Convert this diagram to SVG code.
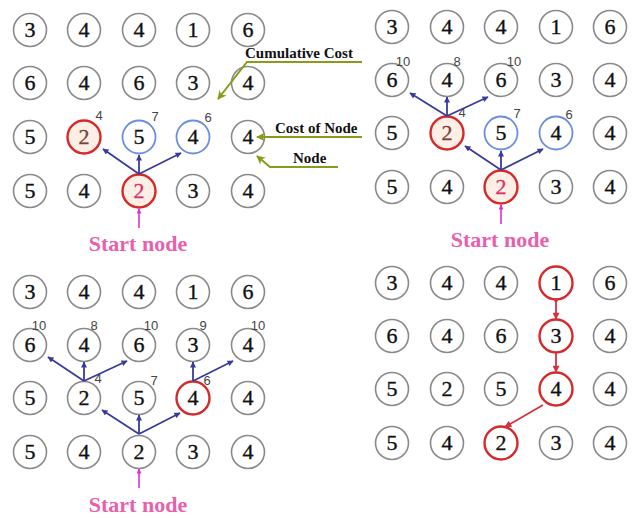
<svg xmlns="http://www.w3.org/2000/svg" width="633" height="518" viewBox="0 0 633 518">
<defs>
<style>
.n circle{fill:#fff;stroke:#8a8a8a;stroke-width:1.6}
.n text{font-family:"Liberation Serif","Times New Roman",serif;font-size:22px;text-anchor:middle;fill:#111;stroke:#111;stroke-width:0.35}
.r circle{stroke:#d42a2a;stroke-width:2.4}
.rf circle{fill:#fdeee6}
.b circle{stroke:#6a8ee0;stroke-width:1.8}
.st text{fill:#d8306a;stroke:#d8306a}
.br text{fill:#7a4434;stroke:#7a4434}
.c{font-family:"Liberation Sans",Arial,sans-serif;font-size:13px;fill:#444;text-anchor:middle}
.e{stroke:#3a3a9c;stroke-width:1.8;fill:none;marker-end:url(#ab)}
.p{stroke:#d83040;stroke-width:1.8;fill:none;marker-end:url(#ar)}
.s{stroke:#e030d0;stroke-width:1.6;marker-end:url(#am)}
.o{stroke:#8c9a1a;stroke-width:2;fill:none}
.lab{font-family:"Liberation Serif",serif;font-weight:bold;font-size:15px;fill:#111}
.start{font-family:"Liberation Serif",serif;font-weight:bold;font-size:22px;fill:#e860ac;text-anchor:middle}
</style>
<marker id="ab" viewBox="0 0 10 10" refX="9" refY="5" markerWidth="7" markerHeight="6" markerUnits="userSpaceOnUse" orient="auto"><path d="M0,0L10,5L0,10z" fill="#3a3a9c"/></marker>
<marker id="ar" viewBox="0 0 10 10" refX="9" refY="5" markerWidth="8" markerHeight="7" markerUnits="userSpaceOnUse" orient="auto"><path d="M0,0L10,5L0,10z" fill="#d83040"/></marker>
<marker id="am" viewBox="0 0 10 10" refX="9" refY="5" markerWidth="6" markerHeight="5" markerUnits="userSpaceOnUse" orient="auto"><path d="M0,0L10,5L0,10z" fill="#e030d0"/></marker>
<marker id="ao" viewBox="0 0 10 10" refX="9" refY="5" markerWidth="10" markerHeight="9" markerUnits="userSpaceOnUse" orient="auto"><path d="M0,0L10,5L0,10L3,5z" fill="#8c9a1a"/></marker>
</defs>
<rect width="633" height="518" fill="#fff"/>

<!-- Panel 1 (top-left) -->
<g id="p1">
<g id="p1-n11" class="n"><circle cx="30" cy="30" r="16.5"/><text x="30" y="37">3</text></g>
<g id="p1-n12" class="n"><circle cx="84" cy="30" r="16.5"/><text x="84" y="37">4</text></g>
<g id="p1-n13" class="n"><circle cx="139" cy="30" r="16.5"/><text x="139" y="37">4</text></g>
<g id="p1-n14" class="n"><circle cx="193" cy="30" r="16.5"/><text x="193" y="37">1</text></g>
<g id="p1-n15" class="n"><circle cx="248" cy="30" r="16.5"/><text x="248" y="37">6</text></g>
<g id="p1-n21" class="n"><circle cx="30" cy="83" r="16.5"/><text x="30" y="90">6</text></g>
<g id="p1-n22" class="n"><circle cx="84" cy="83" r="16.5"/><text x="84" y="90">4</text></g>
<g id="p1-n23" class="n"><circle cx="139" cy="83" r="16.5"/><text x="139" y="90">6</text></g>
<g id="p1-n24" class="n"><circle cx="193" cy="83" r="16.5"/><text x="193" y="90">3</text></g>
<g id="p1-n25" class="n"><circle cx="248" cy="83" r="16.5"/><text x="248" y="90">4</text></g>
<g id="p1-n31" class="n"><circle cx="30" cy="137" r="16.5"/><text x="30" y="144">5</text></g>
<g id="p1-n32" class="n r rf br"><circle cx="84" cy="137" r="16.5"/><text x="84" y="144">2</text></g>
<g id="p1-n33" class="n b"><circle cx="139" cy="137" r="16.5"/><text x="139" y="144">5</text></g>
<g id="p1-n34" class="n b"><circle cx="193" cy="137" r="16.5"/><text x="193" y="144">4</text></g>
<g id="p1-n35" class="n"><circle cx="248" cy="137" r="16.5"/><text x="248" y="144">4</text></g>
<g id="p1-n41" class="n"><circle cx="30" cy="191" r="16.5"/><text x="30" y="198">5</text></g>
<g id="p1-n42" class="n"><circle cx="84" cy="191" r="16.5"/><text x="84" y="198">4</text></g>
<g id="p1-n43" class="n r rf st"><circle cx="139" cy="191" r="16.5"/><text x="139" y="198">2</text></g>
<g id="p1-n44" class="n"><circle cx="193" cy="191" r="16.5"/><text x="193" y="198">3</text></g>
<g id="p1-n45" class="n"><circle cx="248" cy="191" r="16.5"/><text x="248" y="198">4</text></g>
<g id="p1-costs"><text class="c" x="99" y="120">4</text><text class="c" x="155" y="121">7</text><text class="c" x="208" y="122">6</text></g>
<text class="start" x="138" y="251">Start node</text>
</g>

<!-- Panel 2 (top-right) -->
<g id="p2">
<g id="p2-n11" class="n"><circle cx="392" cy="27" r="16.5"/><text x="392" y="34">3</text></g>
<g id="p2-n12" class="n"><circle cx="447" cy="27" r="16.5"/><text x="447" y="34">4</text></g>
<g id="p2-n13" class="n"><circle cx="501" cy="27" r="16.5"/><text x="501" y="34">4</text></g>
<g id="p2-n14" class="n"><circle cx="556" cy="27" r="16.5"/><text x="556" y="34">1</text></g>
<g id="p2-n15" class="n"><circle cx="610" cy="27" r="16.5"/><text x="610" y="34">6</text></g>
<g id="p2-n21" class="n"><circle cx="392" cy="80" r="16.5"/><text x="392" y="87">6</text></g>
<g id="p2-n22" class="n"><circle cx="447" cy="80" r="16.5"/><text x="447" y="87">4</text></g>
<g id="p2-n23" class="n"><circle cx="501" cy="80" r="16.5"/><text x="501" y="87">6</text></g>
<g id="p2-n24" class="n"><circle cx="556" cy="80" r="16.5"/><text x="556" y="87">3</text></g>
<g id="p2-n25" class="n"><circle cx="610" cy="80" r="16.5"/><text x="610" y="87">4</text></g>
<g id="p2-n31" class="n"><circle cx="392" cy="133" r="16.5"/><text x="392" y="140">5</text></g>
<g id="p2-n32" class="n r rf br"><circle cx="447" cy="133" r="16.5"/><text x="447" y="140">2</text></g>
<g id="p2-n33" class="n b"><circle cx="501" cy="133" r="16.5"/><text x="501" y="140">5</text></g>
<g id="p2-n34" class="n b"><circle cx="556" cy="133" r="16.5"/><text x="556" y="140">4</text></g>
<g id="p2-n35" class="n"><circle cx="610" cy="133" r="16.5"/><text x="610" y="140">4</text></g>
<g id="p2-n41" class="n"><circle cx="392" cy="187" r="16.5"/><text x="392" y="194">5</text></g>
<g id="p2-n42" class="n"><circle cx="447" cy="187" r="16.5"/><text x="447" y="194">4</text></g>
<g id="p2-n43" class="n r rf st"><circle cx="501" cy="187" r="16.5"/><text x="501" y="194">2</text></g>
<g id="p2-n44" class="n"><circle cx="556" cy="187" r="16.5"/><text x="556" y="194">3</text></g>
<g id="p2-n45" class="n"><circle cx="610" cy="187" r="16.5"/><text x="610" y="194">4</text></g>
<g id="p2-costs"><text class="c" x="403" y="66">10</text><text class="c" x="457" y="66">8</text><text class="c" x="514" y="66">10</text><text class="c" x="462" y="117">4</text><text class="c" x="517" y="118">7</text><text class="c" x="569" y="119">6</text></g>
<text class="start" x="500" y="247">Start node</text>
</g>

<!-- Panel 3 (bottom-left) -->
<g id="p3">
<g id="p3-n11" class="n"><circle cx="30" cy="292" r="16.5"/><text x="30" y="299">3</text></g>
<g id="p3-n12" class="n"><circle cx="84" cy="292" r="16.5"/><text x="84" y="299">4</text></g>
<g id="p3-n13" class="n"><circle cx="139" cy="292" r="16.5"/><text x="139" y="299">4</text></g>
<g id="p3-n14" class="n"><circle cx="193" cy="292" r="16.5"/><text x="193" y="299">1</text></g>
<g id="p3-n15" class="n"><circle cx="248" cy="292" r="16.5"/><text x="248" y="299">6</text></g>
<g id="p3-n21" class="n"><circle cx="30" cy="345" r="16.5"/><text x="30" y="352">6</text></g>
<g id="p3-n22" class="n"><circle cx="84" cy="345" r="16.5"/><text x="84" y="352">4</text></g>
<g id="p3-n23" class="n"><circle cx="139" cy="345" r="16.5"/><text x="139" y="352">6</text></g>
<g id="p3-n24" class="n"><circle cx="193" cy="345" r="16.5"/><text x="193" y="352">3</text></g>
<g id="p3-n25" class="n"><circle cx="248" cy="345" r="16.5"/><text x="248" y="352">4</text></g>
<g id="p3-n31" class="n"><circle cx="30" cy="398" r="16.5"/><text x="30" y="405">5</text></g>
<g id="p3-n32" class="n"><circle cx="84" cy="398" r="16.5"/><text x="84" y="405">2</text></g>
<g id="p3-n33" class="n"><circle cx="139" cy="398" r="16.5"/><text x="139" y="405">5</text></g>
<g id="p3-n34" class="n r"><circle cx="193" cy="398" r="16.5"/><text x="193" y="405">4</text></g>
<g id="p3-n35" class="n"><circle cx="248" cy="398" r="16.5"/><text x="248" y="405">4</text></g>
<g id="p3-n41" class="n"><circle cx="30" cy="452" r="16.5"/><text x="30" y="459">5</text></g>
<g id="p3-n42" class="n"><circle cx="84" cy="452" r="16.5"/><text x="84" y="459">4</text></g>
<g id="p3-n43" class="n"><circle cx="139" cy="452" r="16.5"/><text x="139" y="459">2</text></g>
<g id="p3-n44" class="n"><circle cx="193" cy="452" r="16.5"/><text x="193" y="459">3</text></g>
<g id="p3-n45" class="n"><circle cx="248" cy="452" r="16.5"/><text x="248" y="459">4</text></g>
<g id="p3-costs"><text class="c" x="39" y="330">10</text><text class="c" x="94" y="330">8</text><text class="c" x="151" y="330">10</text><text class="c" x="203" y="330">9</text><text class="c" x="258" y="330">10</text><text class="c" x="98" y="383">4</text><text class="c" x="154" y="385">7</text><text class="c" x="207" y="385">6</text></g>
<text class="start" x="138" y="512">Start node</text>
</g>

<!-- Panel 4 (bottom-right) -->
<g id="p4">
<g id="p4-n11" class="n"><circle cx="392" cy="283" r="16.5"/><text x="392" y="290">3</text></g>
<g id="p4-n12" class="n"><circle cx="447" cy="283" r="16.5"/><text x="447" y="290">4</text></g>
<g id="p4-n13" class="n"><circle cx="501" cy="283" r="16.5"/><text x="501" y="290">4</text></g>
<g id="p4-n14" class="n r"><circle cx="556" cy="283" r="16.5"/><text x="556" y="290">1</text></g>
<g id="p4-n15" class="n"><circle cx="610" cy="283" r="16.5"/><text x="610" y="290">6</text></g>
<g id="p4-n21" class="n"><circle cx="392" cy="336" r="16.5"/><text x="392" y="343">6</text></g>
<g id="p4-n22" class="n"><circle cx="447" cy="336" r="16.5"/><text x="447" y="343">4</text></g>
<g id="p4-n23" class="n"><circle cx="501" cy="336" r="16.5"/><text x="501" y="343">6</text></g>
<g id="p4-n24" class="n r"><circle cx="556" cy="336" r="16.5"/><text x="556" y="343">3</text></g>
<g id="p4-n25" class="n"><circle cx="610" cy="336" r="16.5"/><text x="610" y="343">4</text></g>
<g id="p4-n31" class="n"><circle cx="392" cy="389" r="16.5"/><text x="392" y="396">5</text></g>
<g id="p4-n32" class="n"><circle cx="447" cy="389" r="16.5"/><text x="447" y="396">2</text></g>
<g id="p4-n33" class="n"><circle cx="501" cy="389" r="16.5"/><text x="501" y="396">5</text></g>
<g id="p4-n34" class="n r"><circle cx="556" cy="389" r="16.5"/><text x="556" y="396">4</text></g>
<g id="p4-n35" class="n"><circle cx="610" cy="389" r="16.5"/><text x="610" y="396">4</text></g>
<g id="p4-n41" class="n"><circle cx="392" cy="443" r="16.5"/><text x="392" y="450">5</text></g>
<g id="p4-n42" class="n"><circle cx="447" cy="443" r="16.5"/><text x="447" y="450">4</text></g>
<g id="p4-n43" class="n r"><circle cx="501" cy="443" r="16.5"/><text x="501" y="450">2</text></g>
<g id="p4-n44" class="n"><circle cx="556" cy="443" r="16.5"/><text x="556" y="450">3</text></g>
<g id="p4-n45" class="n"><circle cx="610" cy="443" r="16.5"/><text x="610" y="450">4</text></g>
</g>

<!-- Legend labels -->
<g id="legend">
<text class="lab" x="245" y="58">Cumulative  Cost</text>
<text class="lab" x="275" y="133">Cost of Node</text>
<text class="lab" x="293" y="163">Node</text>
</g>

<!-- Connectors -->
<g id="connectors">
<line class="e" x1="139" y1="174" x2="103" y2="149"/>
<line class="e" x1="139" y1="174" x2="139" y2="155"/>
<line class="e" x1="139" y1="174" x2="181" y2="153"/>
<line class="s" x1="139" y1="228" x2="139" y2="209"/>
<line class="e" x1="501" y1="170" x2="465" y2="146"/>
<line class="e" x1="501" y1="170" x2="501" y2="151"/>
<line class="e" x1="501" y1="170" x2="543" y2="149"/>
<line class="e" x1="447" y1="116" x2="410" y2="93"/>
<line class="e" x1="447" y1="116" x2="447" y2="97"/>
<line class="e" x1="447" y1="116" x2="488" y2="97"/>
<line class="s" x1="501" y1="224" x2="501" y2="205"/>
<line class="e" x1="139" y1="434" x2="102" y2="410"/>
<line class="e" x1="139" y1="434" x2="139" y2="415"/>
<line class="e" x1="139" y1="434" x2="180" y2="413"/>
<line class="e" x1="84" y1="381" x2="48" y2="357"/>
<line class="e" x1="84" y1="381" x2="84" y2="362"/>
<line class="e" x1="84" y1="381" x2="127" y2="361"/>
<line class="e" x1="193" y1="381" x2="193" y2="362"/>
<line class="e" x1="193" y1="381" x2="233" y2="361"/>
<line class="s" x1="139" y1="488" x2="139" y2="469"/>
<circle cx="556" cy="300" r="2" fill="#d83040"/>
<line class="p" x1="556" y1="300" x2="556" y2="319"/>
<line class="p" x1="556" y1="353" x2="556" y2="372"/>
<line class="p" x1="543" y1="405" x2="505" y2="427"/>
<polyline class="o" points="362,62 247,62 218,99" marker-end="url(#ao)"/>
<line class="o" x1="362" y1="137" x2="257" y2="137" marker-end="url(#ao)"/>
<polyline class="o" points="338,167 270,167 257,156" marker-end="url(#ao)"/>
</g>
</svg>
